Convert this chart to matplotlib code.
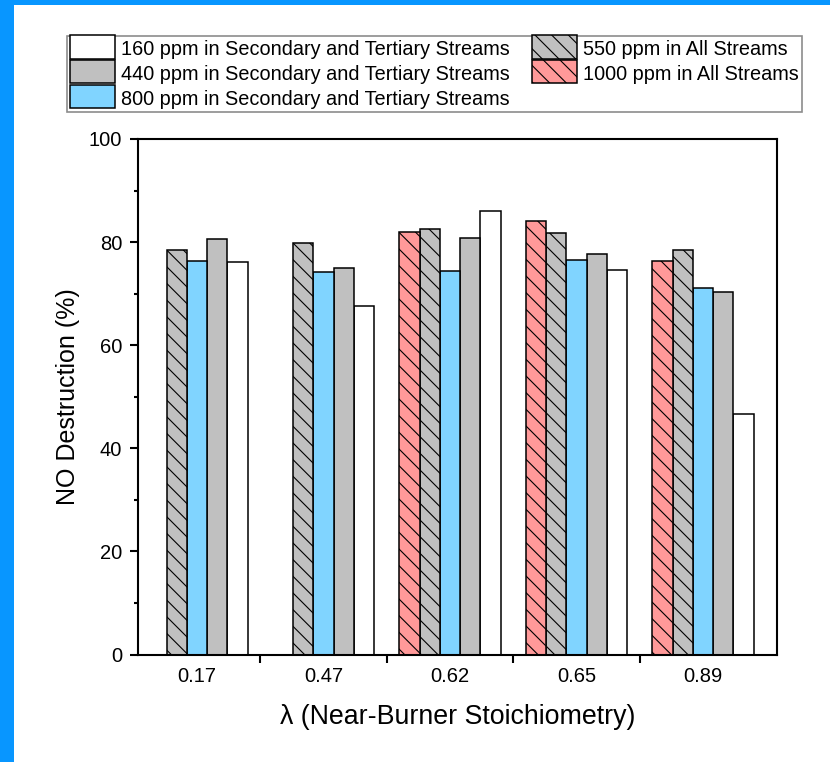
import numpy as np
import matplotlib
matplotlib.use("Agg")
import matplotlib.pyplot as plt
from matplotlib.patches import Rectangle
from matplotlib.legend_handler import HandlerPatch
from matplotlib.ticker import MultipleLocator, FixedLocator

plt.rcParams['font.family'] = ['Liberation Sans', 'DejaVu Sans']
plt.rcParams['hatch.linewidth'] = 0.8
plt.rcParams['hatch.color'] = 'black'

# --- data: NO destruction (%) per near-burner stoichiometry ---
lambdas = ['0.17', '0.47', '0.62', '0.65', '0.89']
no_1000_all = [np.nan, np.nan, 81.9, 84.0, 76.4]
no_550_all = [78.5, 79.8, 82.5, 81.7, 78.4]
no_800_st = [76.4, 74.2, 74.4, 76.5, 71.1]
no_440_st = [80.6, 75.0, 80.8, 77.7, 70.4]
no_160_st = [76.2, 67.7, 86.1, 74.6, 46.6]

series = [
    # (values, label, facecolor, hatch, slot offset)
    (no_160_st, '160 ppm in Secondary and Tertiary Streams', 'white', None, 2),
    (no_440_st, '440 ppm in Secondary and Tertiary Streams', '#C0C0C0', None, 1),
    (no_800_st, '800 ppm in Secondary and Tertiary Streams', '#80D4FF', None, 0),
    (no_550_all, '550 ppm in All Streams', '#C0C0C0', '\\\\', -1),
    (no_1000_all, '1000 ppm in All Streams', '#FF9999', '\\\\', -2),
]

bar_w = 0.16
x = np.arange(len(lambdas))


def full_box(legend, orig_handle, xdescent, ydescent, width, height, fontsize):
    # legend swatch filling the whole handle box (incl. descent)
    return Rectangle((-xdescent, -ydescent), width, height + ydescent)


fig = plt.figure(figsize=(8.3, 7.62), dpi=100)
ax = fig.add_axes([137.5 / 830, 1 - 654.5 / 762, (777 - 137.5) / 830, (654.5 - 139) / 762])

handles, labels = [], []
for vals, label, fc, hatch, slot in series:
    vals = np.asarray(vals, dtype=float)
    ok = ~np.isnan(vals)
    bars = ax.bar(x[ok] + slot * bar_w, vals[ok], width=bar_w, color=fc,
                  edgecolor='black', linewidth=1.1, hatch=hatch, label=label, zorder=2)
    handles.append(bars.patches[0])
    labels.append(label)

ax.set_xlim(-0.47, 4.585)
ax.set_ylim(0, 100)

# category labels without ticks, ticks drawn between groups
ax.set_xticks(x)
ax.set_xticklabels(lambdas)
ax.xaxis.set_minor_locator(FixedLocator(x[:-1] + 0.5))
ax.tick_params(axis='x', which='major', length=0, pad=9, labelsize=14.5)
ax.tick_params(axis='x', which='minor', direction='out', length=6, width=1.5)

ax.yaxis.set_major_locator(MultipleLocator(20))
ax.yaxis.set_minor_locator(MultipleLocator(10))
ax.tick_params(axis='y', which='major', direction='out', length=6, width=1.5, pad=5, labelsize=14.5)
ax.tick_params(axis='y', which='minor', direction='out', length=3, width=1.5)

for sp in ax.spines.values():
    sp.set_linewidth(1.5)

ax.set_ylabel('NO Destruction (%)', fontsize=18)
ax.yaxis.set_label_coords(-0.09, 0.5)
ax.set_xlabel('λ (Near-Burner Stoichiometry)', fontsize=19.3)
ax.xaxis.set_label_coords(0.5, -0.096)

leg = fig.legend(handles, labels, loc='upper left',
                 bbox_to_anchor=(66.7 / 830, 1 - 35.7 / 762), bbox_transform=fig.transFigure,
                 ncol=2, fontsize=14.3, frameon=True, fancybox=False,
                 handler_map={Rectangle: HandlerPatch(patch_func=full_box)},
                 handlelength=2.3, handleheight=1.16, handletextpad=0.29,
                 labelspacing=0.2, columnspacing=1.1, borderpad=0.15, borderaxespad=0)
leg.get_frame().set_edgecolor('#707070')
leg.get_frame().set_linewidth(1.2)

# blue frame strips along the left and top edges
fig.patches.append(Rectangle((0, 0), 14 / 830, 1, transform=fig.transFigure,
                             facecolor='#0896FF', edgecolor='none', zorder=0))
fig.patches.append(Rectangle((0, 1 - 5 / 762), 1, 5 / 762, transform=fig.transFigure,
                             facecolor='#0896FF', edgecolor='none', zorder=0))

fig.savefig('out.png', dpi=100)
